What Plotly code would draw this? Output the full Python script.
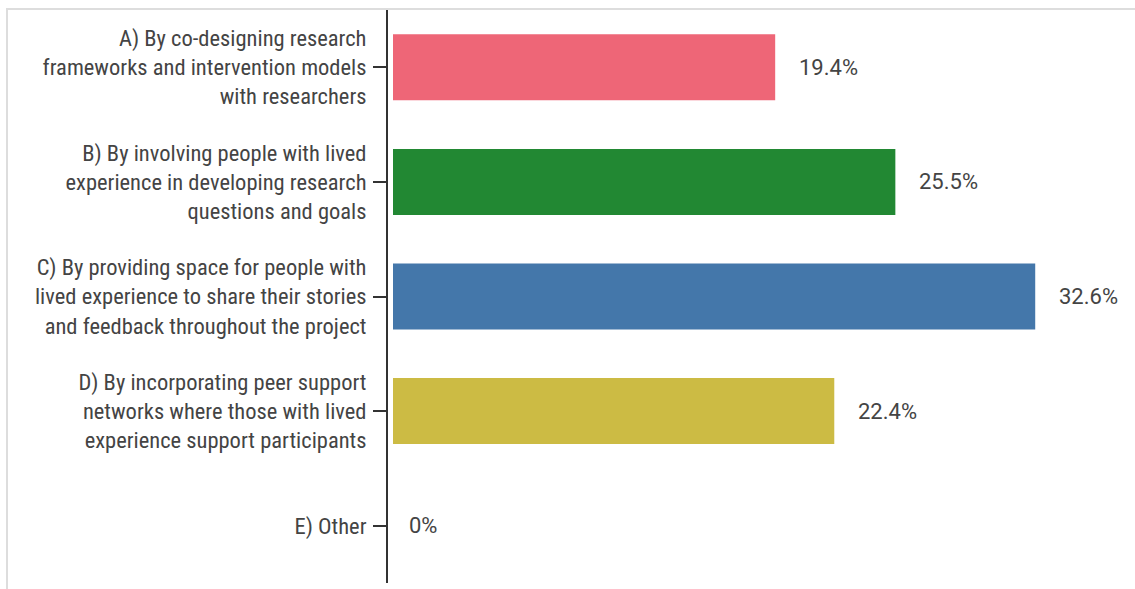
import plotly.graph_objects as go

categories = ["A", "B", "C", "D", "E"]
tick_labels = [
    "A) By co-designing research<br>frameworks and intervention models<br>with researchers",
    "B) By involving people with lived<br>experience in developing research<br>questions and goals",
    "C) By providing space for people with<br>lived experience to share their stories<br>and feedback throughout the project",
    "D) By incorporating peer support<br>networks where those with lived<br>experience support participants",
    "E) Other",
]
values = [19.4, 25.5, 32.6, 22.4, 0]
value_labels = ["19.4%", "25.5%", "32.6%", "22.4%", "0%"]
colors = ["#EE6677", "#228833", "#4477AA", "#CCBB44", "#66CCEE"]

W, H = 1135, 589
ML, MR, MT, MB = 388, 0, 10, 6
zero_px = 393
scale = 19.7  # px per percent
pw = W - ML - MR
ph = H - MT - MB
x_min = -(zero_px - ML) / scale
x_max = (W - MR - zero_px) / scale

fig = go.Figure()
fig.add_trace(go.Bar(
    y=categories, x=values, orientation="h",
    marker=dict(color=colors, line=dict(width=0)),
    hoverinfo="skip",
))

for cat, v, lab in zip(categories, values, value_labels):
    fig.add_annotation(
        x=v, y=cat, text=lab, showarrow=False,
        xanchor="left", yanchor="middle",
        xshift=22 if v > 0 else 14,
        font=dict(family="Roboto, sans-serif", size=22, color="#444"),
    )

# container border (top and left)
def px_to_paper_x(px):
    return (px - ML) / pw

def px_to_paper_y(py):
    return (H - MB - py) / ph

fig.add_shape(type="line", xref="paper", yref="paper",
              x0=px_to_paper_x(6), x1=px_to_paper_x(W + 5),
              y0=px_to_paper_y(9), y1=px_to_paper_y(9),
              line=dict(color="#dddddd", width=2), layer="below")
fig.add_shape(type="line", xref="paper", yref="paper",
              x0=px_to_paper_x(7), x1=px_to_paper_x(7),
              y0=px_to_paper_y(9), y1=px_to_paper_y(H + 5),
              line=dict(color="#dddddd", width=2), layer="below")

fig.update_layout(
    width=W, height=H,
    margin=dict(l=ML, r=MR, t=MT, b=MB, autoexpand=False),
    paper_bgcolor="white", plot_bgcolor="white",
    showlegend=False,
    bargap=0.424,
    xaxis=dict(range=[x_min, x_max], visible=False, showgrid=False, zeroline=False),
    yaxis=dict(
        type="category",
        range=[4.5, -0.5],
        tickmode="array", tickvals=categories, ticktext=tick_labels,
        showline=True, linecolor="#333", linewidth=2,
        ticks="outside", ticklen=13, tickcolor="#333", tickwidth=1.5,
        ticklabelstandoff=2,
        showgrid=False, zeroline=False,
        tickfont=dict(family="Liberation Sans Narrow, Roboto Condensed, sans-serif", size=22.5, color="#444"),
    ),
)

fig.write_html(
    "out.html",
    config={"displayModeBar": False},
    post_script="document.body.style.margin='0';document.body.style.overflow='hidden';",
)
